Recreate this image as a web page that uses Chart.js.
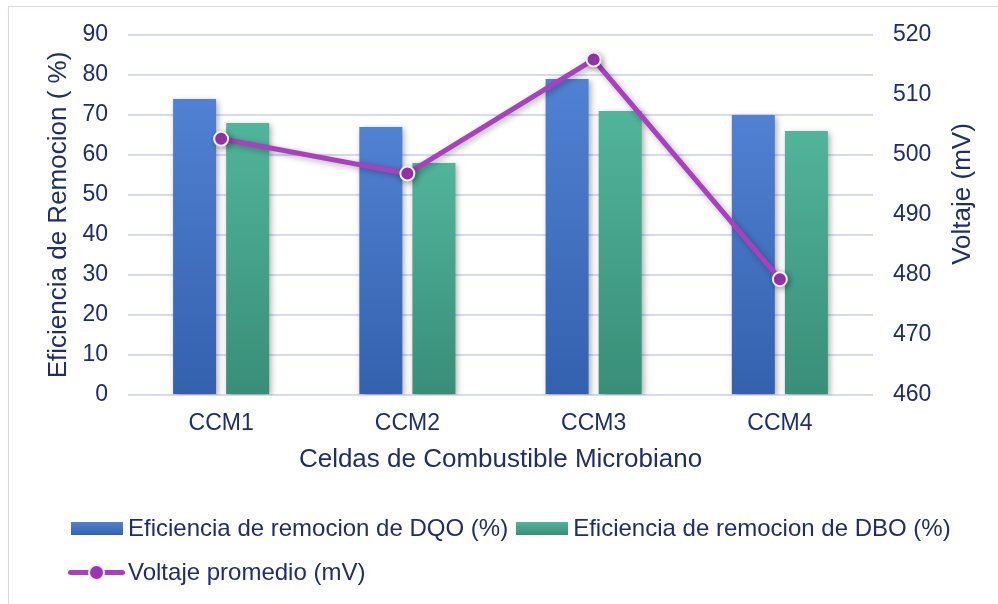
<!DOCTYPE html>
<html>
<head>
<meta charset="utf-8">
<title>Eficiencia de remocion y voltaje</title>
<script src="https://cdn.jsdelivr.net/npm/chart.js@4.4.1/dist/chart.umd.min.js"></script>
<style>
    html, body {
        margin: 0;
        padding: 0;
        background: #fff;
    }

    #wrap {
        position: relative;
        width: 998px;
        height: 604px;
        overflow: hidden;
    }

    #frame {
        position: absolute;
        left: 8px;
        top: 6px;
        width: 1200px;
        height: 800px;
        border: 1.5px solid #D5D9F3;
    }

    #chart {
        position: absolute;
        left: 0;
        top: 0;
    }

    #legend {
        position: absolute;
        left: 68px;
        top: 513px;
        font-family: "Liberation Sans", Arial, sans-serif;
        font-size: 24px;
        color: #1F2D6B;
    }

    #legend .row {
        display: flex;
        align-items: center;
        height: 30px;
        margin-bottom: 14px;
    }

    #legend .item {
        display: flex;
        align-items: center;
        margin-right: 5px;
        white-space: nowrap;
    }

    #legend .icon {
        position: relative;
        width: 58px;
        height: 30px;
        margin-right: 2px;
    }

    #legend .box {
        position: absolute;
        left: 3px;
        top: 9px;
        width: 52px;
        height: 13px;
    }

    #legend .line {
        position: absolute;
        left: 0;
        top: 13px;
        width: 57px;
        height: 5px;
        border-radius: 3px;
    }

    #legend .dot {
        position: absolute;
        left: 20px;
        top: 7px;
        width: 13px;
        height: 13px;
        border-radius: 50%;
        border: 2px solid #EFEFEF;
    }
</style>
</head>
<body>
<div id="wrap">
    <div id="frame"></div>
    <canvas id="chart" width="998" height="604"></canvas>
    <div id="legend"></div>
</div>
<script>
    const categories = ['CCM1', 'CCM2', 'CCM3', 'CCM4'];
    const dqoValues = [74, 67, 79, 70];
    const dboValues = [68, 58, 71, 66];
    const voltageValues = [502.7, 496.9, 515.9, 479.3];

    const dqoLabel = 'Eficiencia de remocion de DQO (%)';
    const dboLabel = 'Eficiencia de remocion de DBO (%)';
    const voltageLabel = 'Voltaje promedio (mV)';
    const voltageAxisTitle = 'Voltaje (mV)';

    const textColor = '#1F2D6B';
    const gridColor = '#D6DBF2';
    const fontFamily = '"Liberation Sans", Arial, sans-serif';

    const blue = ['#5181D3', '#3461AE'];
    const green = ['#51B49B', '#398E78'];
    const purple = '#A940BF';

    // gradient from the top of each bar down to the zero line
    function barGradient(colors) {
        return function (context) {
            const chart = context.chart;

            if (!chart.chartArea || context.type !== 'data') {
                return colors[0];
            }

            const scale = chart.scales.y;
            const top = scale.getPixelForValue(context.raw);
            const bottom = scale.getPixelForValue(0);
            const gradient = chart.ctx.createLinearGradient(0, top, 0, bottom);

            gradient.addColorStop(0, colors[0]);
            gradient.addColorStop(1, colors[1]);

            return gradient;
        };
    }

    const shadowPlugin = {
        id: 'softShadow',
        beforeDatasetDraw(chart) {
            const ctx = chart.ctx;

            ctx.save();
            ctx.shadowColor = 'rgba(0, 0, 0, 0.32)';
            ctx.shadowBlur = 6;
            ctx.shadowOffsetX = 2;
            ctx.shadowOffsetY = 2;
        },
        afterDatasetDraw(chart) {
            chart.ctx.restore();
        }
    };

    // right axis title reads bottom to top, like the left one
    const rightTitlePlugin = {
        id: 'rightTitle',
        afterDraw(chart) {
            const ctx = chart.ctx;
            const scale = chart.scales.y1;

            ctx.save();
            ctx.translate(scale.right - 35, 194);
            ctx.rotate(-Math.PI / 2);
            ctx.font = '26px ' + fontFamily;
            ctx.fillStyle = textColor;
            ctx.textAlign = 'center';
            ctx.textBaseline = 'middle';
            ctx.fillText(voltageAxisTitle, 0, 0);
            ctx.restore();
        }
    };

    Chart.defaults.font.family = fontFamily;
    Chart.defaults.color = textColor;

    const chart = new Chart(document.getElementById('chart'), {
        type: 'bar',
        data: {
            labels: categories,
            datasets: [{
                label: dqoLabel,
                data: dqoValues,
                yAxisID: 'y',
                order: 1,
                backgroundColor: barGradient(blue),
                categoryPercentage: 0.57,
                barPercentage: 0.81
            }, {
                label: dboLabel,
                data: dboValues,
                yAxisID: 'y',
                order: 2,
                backgroundColor: barGradient(green),
                categoryPercentage: 0.57,
                barPercentage: 0.81
            }, {
                type: 'line',
                label: voltageLabel,
                data: voltageValues,
                yAxisID: 'y1',
                order: 0,
                borderColor: purple,
                borderWidth: 5,
                pointRadius: 7,
                pointBorderWidth: 2,
                pointBackgroundColor: '#9C35B3',
                pointBorderColor: '#EFEFEF',
                tension: 0
            }]
        },
        options: {
            responsive: false,
            animation: false,
            events: [],
            layout: {
                padding: {
                    top: 35,
                    left: 0,
                    right: 0,
                    bottom: 109
                }
            },
            plugins: {
                legend: {
                    display: false
                },
                tooltip: {
                    enabled: false
                }
            },
            scales: {
                x: {
                    grid: {
                        display: false,
                        drawTicks: false
                    },
                    border: {
                        display: false
                    },
                    ticks: {
                        padding: 15,
                        font: {
                            size: 23
                        }
                    },
                    title: {
                        display: true,
                        text: 'Celdas de Combustible Microbiano',
                        font: {
                            size: 26
                        },
                        padding: {
                            top: 0,
                            bottom: 20
                        }
                    },
                    afterFit: (scale) => {
                        scale.height = 100;
                    }
                },
                y: {
                    position: 'left',
                    min: 0,
                    max: 90,
                    ticks: {
                        stepSize: 10,
                        padding: 20,
                        font: {
                            size: 23
                        }
                    },
                    grid: {
                        color: gridColor,
                        lineWidth: 2,
                        drawTicks: false
                    },
                    border: {
                        display: false
                    },
                    title: {
                        display: true,
                        text: 'Eficiencia de Remocion ( %)',
                        font: {
                            size: 26
                        },
                        padding: {
                            top: 43,
                            bottom: 0
                        }
                    },
                    afterFit: (scale) => {
                        scale.width = 128;
                    }
                },
                y1: {
                    position: 'right',
                    min: 460,
                    max: 520,
                    ticks: {
                        stepSize: 10,
                        padding: 20,
                        font: {
                            size: 23
                        }
                    },
                    grid: {
                        display: false,
                        drawTicks: false
                    },
                    border: {
                        display: false
                    },
                    afterFit: (scale) => {
                        scale.width = 125;
                    }
                }
            }
        },
        plugins: [shadowPlugin, rightTitlePlugin]
    });

    // html legend, built from the chart datasets (bars first, line on its own row)
    function buildLegend() {
        const legend = document.getElementById('legend');
        const datasets = chart.data.datasets;
        const rows = [
            datasets.filter(ds => ds.type !== 'line'),
            datasets.filter(ds => ds.type === 'line')
        ];

        rows.forEach((items) => {
            const row = document.createElement('div');
            row.className = 'row';

            items.forEach((ds) => {
                const item = document.createElement('div');
                const icon = document.createElement('div');
                const text = document.createElement('span');

                item.className = 'item';
                icon.className = 'icon';

                if (ds.type === 'line') {
                    const line = document.createElement('div');
                    const dot = document.createElement('div');

                    line.className = 'line';
                    line.style.background = ds.borderColor;
                    dot.className = 'dot';
                    dot.style.background = ds.pointBackgroundColor;

                    icon.appendChild(line);
                    icon.appendChild(dot);
                } else {
                    const box = document.createElement('div');
                    const colors = ds.label === dqoLabel ? blue : green;

                    box.className = 'box';
                    box.style.background = 'linear-gradient(' + colors[0] + ', ' + colors[1] + ')';
                    icon.appendChild(box);
                }

                text.textContent = ds.label;

                item.appendChild(icon);
                item.appendChild(text);
                row.appendChild(item);
            });

            legend.appendChild(row);
        });
    }

    buildLegend();
</script>
</body>
</html>
